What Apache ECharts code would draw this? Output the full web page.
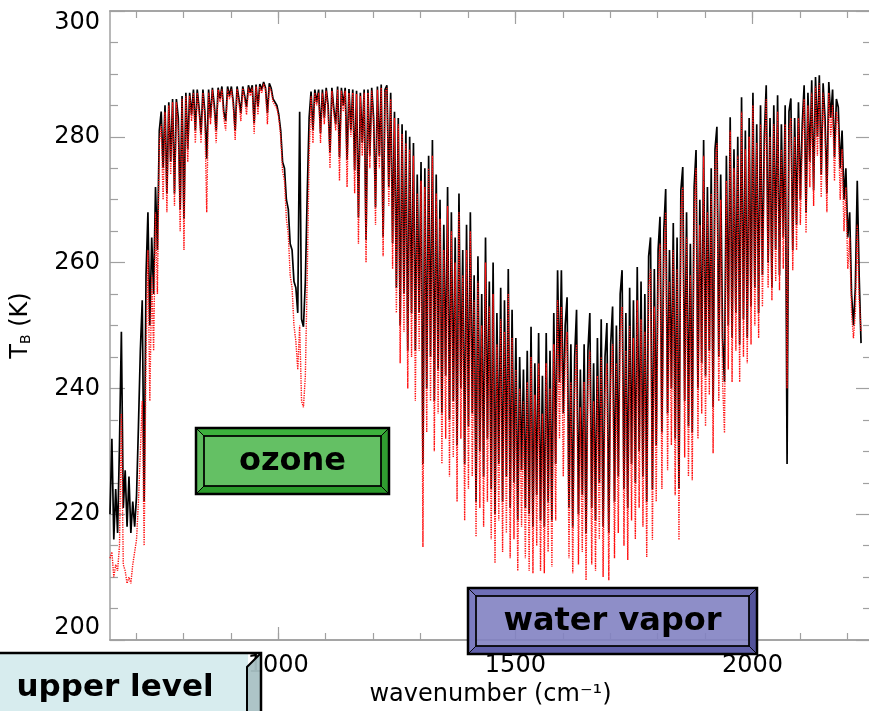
<!DOCTYPE html>
<html>
<head>
<meta charset="utf-8">
<script src="https://cdn.jsdelivr.net/npm/echarts@6/dist/echarts.min.js"></script>
<style>
  html, body { margin: 0; padding: 0; background: #fff; }
  #chart { width: 869px; height: 711px; }
</style>
</head>
<body>
<div id="chart"></div>
<script>
// spectral grid: first wavenumber and step (cm-1)
const wnStart = 645;
const wnStep = 4;

// brightness temperature (K), black curve, 10 samples per row
const tbBlack = [
  220, 232, 216, 224, 217, 231, 249, 221, 227, 218,            // 645
  226, 217, 222, 218, 223, 234, 246, 254, 222, 258,            // 685
  268, 250, 264, 255, 272, 262, 281, 284, 275, 285,            // 725
  271, 285.5, 276, 286, 271, 286, 283, 268.5, 286.5, 267,      // 765
  287, 278, 287, 283.5, 287.5, 281, 287.5, 284.5, 280.5, 287.5, // 805
  284, 276.5, 287.5, 283, 287.8, 285, 281, 287.8, 286, 288,    // 845
  284, 282.5, 288, 286.5, 288, 285.5, 281, 288, 286, 283.8,    // 885
  288, 286.5, 284.7, 288.2, 287, 288.2, 282.2, 288.3, 284.7, 288.4, // 925
  287.5, 288.7, 287.8, 283.8, 288.5, 287.7, 286, 286, 285, 283.5,   // 965
  281, 276, 275, 270, 268.5, 263, 262, 257, 256, 252,          // 1005
  284, 251, 249.8, 257, 271, 283, 287.2, 281, 287.5, 285.5,    // 1045
  287.5, 280.6, 287.5, 283, 287.8, 285, 277.6, 287.8, 284.5, 282, // 1085
  288, 276.8, 287.8, 285, 287.8, 276.3, 287.6, 281, 287.5, 274.7, // 1125
  287.3, 267.2, 287, 279, 287.5, 263.6, 287.5, 277, 287.8, 283,   // 1165
  268.8, 288, 277, 288.3, 264.1, 287.5, 288.2, 272, 287, 263.1,   // 1205
  284, 256, 283, 250, 282, 255, 281, 246, 280, 252,            // 1245
  279, 246, 274, 252, 276, 228, 275, 240, 277, 245,            // 1285
  279.5, 238, 274, 243, 270, 236, 266, 242, 272, 235,          // 1325
  268, 238, 264, 231, 271, 240, 262, 228, 266, 234,            // 1365
  268, 236, 258, 222, 261, 230, 255, 226, 264, 232,            // 1405
  257, 224, 260, 220, 252, 228, 256, 222, 254, 226,            // 1445
  259, 221, 252.5, 225, 248, 219, 245, 227, 243, 221,          // 1485
  246, 220, 249.8, 218, 244, 223, 248.8, 219, 242, 218,        // 1525
  248.8, 222, 246, 219, 252, 228, 258.8, 241, 258.8, 236,      // 1565
  250, 254.5, 221, 247, 218, 245, 252.5, 220, 243, 223,        // 1605
  247, 217, 246, 252, 221, 244, 219, 248, 225, 251,            // 1645
  218, 245, 250.4, 217, 247, 253, 222, 250, 226, 255,          // 1685
  258.8, 224, 252, 221, 256, 228, 254, 225, 259.3, 230,        // 1725
  257, 226, 255, 222, 261, 264, 224, 259, 231, 262,            // 1765
  267.3, 233, 265, 271.7, 236, 262, 240, 266.3, 232, 264,      // 1805
  224, 271.5, 275.2, 238, 268, 234, 263, 233, 272, 277.9,      // 1845
  240, 270, 244, 279.5, 242, 272, 246, 275, 237, 278,          // 1885
  281.6, 245, 274, 248, 241, 277, 250, 283.1, 248, 278,        // 1925
  252, 280, 247, 286.3, 251, 281, 248, 283, 253, 287,          // 1965
  256, 282, 252, 285, 258, 280, 288.2, 260, 283, 256,          // 2005
  285, 262, 286.6, 258, 282, 264, 285, 228, 284, 286.1,        // 2045
  262, 283, 266, 285.5, 270, 282, 288.2, 268, 287, 276,        // 2085
  289, 271.5, 289.5, 280, 289.8, 274, 288.5, 283, 271, 288.7,  // 2125
  283, 287.5, 276.8, 286, 284.7, 275, 281, 270, 275, 264,      // 2165
  268, 255, 250, 256, 273, 258, 247.2                          // 2205
];

// red dotted curve, same grid
const tbRed = [
  213, 214, 210, 212, 211, 215, 236, 212, 211, 209,            // 645
  210, 209, 212, 214, 216, 222, 230, 238, 215, 245,            // 685
  262, 238, 258, 246, 268, 255, 279, 282, 270, 284,            // 725
  268, 285, 274, 285.5, 269, 285.5, 281, 265, 286, 262,        // 765
  286.5, 276, 286.5, 282.5, 287, 279, 287, 284, 279, 287,      // 805
  283, 268, 287, 282, 287.5, 284, 279, 287.5, 285.5, 287.5,    // 845
  283, 281, 287.5, 286, 287.5, 285, 279.5, 287.6, 285.5, 282.5, // 885
  287.7, 286, 283.5, 287.8, 286.5, 287.8, 280.5, 288, 283.5, 288, // 925
  287, 288.4, 287.5, 282, 288, 287.3, 285.5, 285.5, 284.5, 283,   // 965
  280, 274.5, 273, 267, 264.5, 258, 256, 250, 247.5, 243,      // 1005
  250, 238, 237, 242, 258, 277, 286.5, 279, 287, 285,          // 1045
  287, 279, 287, 282, 287.3, 284.5, 275, 287.3, 284, 281,      // 1085
  287.5, 273, 287.3, 284, 287.3, 272, 287, 280, 287, 271,      // 1125
  286.8, 263, 286.5, 277, 287, 260, 287, 275, 287.3, 282,      // 1165
  266, 287.5, 275, 287.8, 261, 287, 287.7, 269, 286, 259,      // 1205
  283, 252, 282, 244, 280.5, 249, 279, 240, 278, 245,          // 1245
  277, 238, 271, 246, 273, 214.8, 272, 233, 275, 238,          // 1285
  277, 230, 271, 236, 267, 228, 262, 232, 269, 226,            // 1325
  265, 229, 260, 222, 268, 232, 258, 219, 262, 224,            // 1365
  265, 226, 254, 216.4, 257, 221, 250, 218, 260, 222,          // 1405
  253, 216, 255, 212.2, 247, 219, 251, 214, 249, 217,          // 1445
  255, 213, 248, 216, 243, 211, 240, 218, 238, 213,            // 1485
  241, 211, 245, 210.6, 239, 215, 244, 211, 236, 210.6,        // 1525
  244, 214, 240, 211.6, 247, 219, 254, 232, 253, 226,          // 1565
  245, 249, 213, 241, 210.6, 239, 247, 212, 237, 214,          // 1605
  241, 209.5, 240, 246, 212, 238, 211, 242, 216, 245,          // 1645
  210, 239, 244, 209.5, 241, 247, 213, 244, 217, 249,          // 1685
  253, 215, 246, 212.7, 250, 219, 248, 216, 254, 221,          // 1725
  251, 218, 249, 213.2, 256, 259, 215.9, 253, 222, 257,        // 1765
  263, 224, 260, 268, 227, 257, 231, 262, 223, 259,            // 1805
  215.9, 268, 272, 229, 264, 226, 258, 225.4, 268, 275,        // 1845
  232, 266, 236, 277, 234, 268, 239, 271, 229.7, 275,          // 1885
  279, 238, 270, 241, 232.9, 273, 243, 281, 241, 275,          // 1925
  246, 277, 241, 284, 245, 278, 244, 280, 247, 285,            // 1965
  250, 279, 248, 282, 253, 276, 286, 256, 280, 254,            // 2005
  282, 257, 284, 255.6, 278, 259, 282, 240, 281, 283,          // 2045
  258.8, 280, 262, 283, 266, 279, 286, 264.7, 285, 272,        // 2085
  287, 269, 288, 277, 288.5, 270.4, 287, 280, 268, 287,        // 2125
  280, 285, 273, 284, 282, 270, 278, 265, 272, 259,            // 2165
  264, 252, 248, 252, 266, 254, 249                            // 2205
];

const xLabelTicks = [1000, 1500, 2000];
const xMinorTicks = [700, 800, 900, 1000, 1100, 1200, 1300, 1400, 1500, 1600, 1700, 1800, 1900, 2000, 2100, 2200];
const yTicks = [200, 220, 240, 260, 280, 300];

const wavenumber = tbBlack.map((_, i) => wnStart + i * wnStep);
const blackData = wavenumber.map((w, i) => [w, tbBlack[i]]);
const redData = wavenumber.map((w, i) => [w, tbRed[i]]);

const axisGrey = '#a0a0a0';
const font = '"DejaVu Sans", sans-serif';

function xAxisDef(pos, ticks, len, withLabel) {
  return {
    type: 'value', min: 645, max: 2250, position: pos,
    axisLine: { show: true, onZero: false, lineStyle: { color: axisGrey, width: 1.5 } },
    axisTick: { show: true, inside: true, length: len, customValues: ticks,
      lineStyle: { color: axisGrey, width: 1.2 } },
    axisLabel: withLabel
      ? { show: true, customValues: xLabelTicks, color: '#000', fontSize: 24, fontFamily: font, margin: 14,
          formatter: (v) => String(v) }
      : { show: false },
    splitLine: { show: false }
  };
}

function yAxisDef(pos, withLabel) {
  return {
    type: 'value', min: 200, max: 300, interval: 20, position: pos,
    axisLine: { show: true, lineStyle: { color: axisGrey, width: 1.5 } },
    axisTick: { show: true, inside: true, length: 15, lineStyle: { color: axisGrey, width: 1.2 } },
    minorTick: { show: true, splitNumber: 4, length: 8, lineStyle: { color: axisGrey, width: 1.2 } },
    axisLabel: withLabel
      ? { show: true, customValues: yTicks, color: '#000', fontSize: 24, fontFamily: font, margin: 10,
          verticalAlignMinLabel: 'bottom', verticalAlignMaxLabel: 'top', formatter: (v) => String(v) }
      : { show: false },
    splitLine: { show: false },
    minorSplitLine: { show: false }
  };
}

// bevelled label box (like the slide buttons in the picture)
function bevelBox(x, y, w, h, d, c, label, alpha) {
  const border = { stroke: '#000', lineWidth: 1 };
  const parts = [
    { type: 'rect', shape: { x: x, y: y, width: w, height: h }, style: { fill: c.face, opacity: alpha } },
    { type: 'polygon', shape: { points: [[x, y], [x + w, y], [x + w - d, y + d], [x + d, y + d]] },
      style: Object.assign({ fill: c.top, opacity: alpha }, border) },
    { type: 'polygon', shape: { points: [[x, y + h], [x + w, y + h], [x + w - d, y + h - d], [x + d, y + h - d]] },
      style: Object.assign({ fill: c.bottom, opacity: alpha }, border) },
    { type: 'polygon', shape: { points: [[x, y], [x + d, y + d], [x + d, y + h - d], [x, y + h]] },
      style: Object.assign({ fill: c.left, opacity: alpha }, border) },
    { type: 'polygon', shape: { points: [[x + w, y], [x + w - d, y + d], [x + w - d, y + h - d], [x + w, y + h]] },
      style: Object.assign({ fill: c.right, opacity: alpha }, border) },
    { type: 'rect', shape: { x: x + d, y: y + d, width: w - 2 * d, height: h - 2 * d },
      style: { fill: 'none', stroke: '#000', lineWidth: 1.5 } },
    { type: 'rect', shape: { x: x, y: y, width: w, height: h },
      style: { fill: 'none', stroke: '#000', lineWidth: 2.5 } },
    { type: 'text', style: { text: label, x: x + w / 2, y: y + h / 2 + 1, fill: '#000',
      font: 'bold 32px "DejaVu Sans", sans-serif', textAlign: 'center', textVerticalAlign: 'middle', verticalAlign: 'middle' } }
  ];
  return parts.map(p => Object.assign({ z: 100 }, p));
}

const ozoneBox = bevelBox(196, 428, 193, 66, 8,
  { face: '#64c064', top: '#3db13d', bottom: '#2a9a2a', left: '#5cbb5c', right: '#309e30' }, 'ozone', 1);
const vaporBox = bevelBox(468, 588, 289, 66, 8,
  { face: '#8282c2', top: '#6c6cb5', bottom: '#5b5ba6', left: '#7a7abf', right: '#4c4c96' }, 'water vapor', 0.9);

const upperBox = [
  { type: 'rect', shape: { x: -3, y: 653, width: 251, height: 62 }, style: { fill: '#d5ebed', opacity: 0.95 } },
  { type: 'polygon', shape: { points: [[247, 667], [261, 653], [261, 715], [247, 715]] },
    style: { fill: '#a9c1c4', opacity: 0.95 } },
  { type: 'polyline', shape: { points: [[-3, 653], [261, 653], [261, 715]] },
    style: { fill: 'none', stroke: '#000', lineWidth: 2.5 } },
  { type: 'polyline', shape: { points: [[261, 653], [247, 667], [247, 715]] },
    style: { fill: 'none', stroke: '#000', lineWidth: 2 } },
  { type: 'text', style: { text: 'upper level', x: 115, y: 688, fill: '#000',
    font: 'bold 31px "DejaVu Sans", sans-serif', textAlign: 'center', textVerticalAlign: 'middle', verticalAlign: 'middle' } }
].map(p => Object.assign({ z: 100 }, p));

const chart = echarts.init(document.getElementById('chart'), null, { renderer: 'canvas' });
chart.setOption({
  animation: false,
  backgroundColor: '#fff',
  grid: { left: 110, top: 11, right: -2, bottom: 71, containLabel: false, outerBoundsMode: 'none' },
  xAxis: [
    Object.assign(xAxisDef('bottom', xLabelTicks, 13, true), {
      name: 'wavenumber (cm⁻¹)', nameLocation: 'middle', nameGap: 39,
      nameTextStyle: { color: '#000', fontSize: 24, fontFamily: font }
    }),
    xAxisDef('bottom', xMinorTicks, 7, false),
    xAxisDef('top', xLabelTicks, 13, false),
    xAxisDef('top', xMinorTicks, 7, false)
  ],
  yAxis: [
    Object.assign(yAxisDef('left', true), {
      name: '{t|T}{s|B}{t| (K)}', nameLocation: 'middle', nameGap: 74, nameRotate: 90,
      nameTextStyle: {
        color: '#000', fontFamily: font,
        rich: {
          t: { fontSize: 24, fontFamily: font, color: '#000', lineHeight: 30 },
          s: { fontSize: 14, fontFamily: font, color: '#000', lineHeight: 30, padding: [10, 0, 0, 0] }
        }
      }
    }),
    yAxisDef('right', false)
  ],
  series: [
    { type: 'line', xAxisIndex: 0, yAxisIndex: 0, data: blackData, symbol: 'none', silent: true,
      lineStyle: { color: '#000', width: 1.7 }, z: 2 },
    { type: 'line', xAxisIndex: 0, yAxisIndex: 0, data: redData, symbol: 'none', silent: true,
      lineStyle: { color: '#ff1010', width: 1.4, type: [1.3, 1.1] }, z: 3 }
  ],
  graphic: ozoneBox.concat(vaporBox, upperBox)
});
</script>
</body>
</html>
